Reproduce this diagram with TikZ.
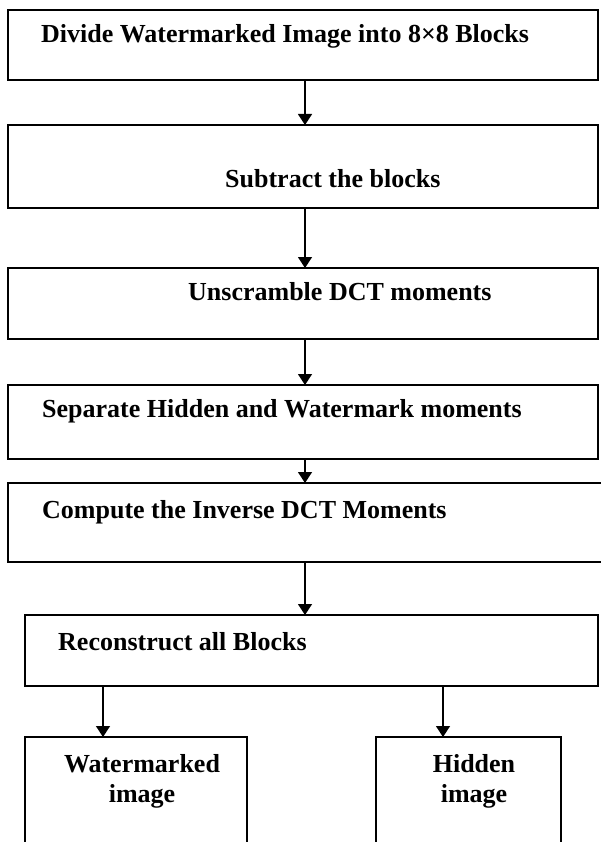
\documentclass[tikz,border=0pt]{standalone}
\usepackage{fontspec}
\setmainfont{Liberation Serif}
\usetikzlibrary{arrows.meta}
\begin{document}
\begin{tikzpicture}[x=1pt,y=-1pt,
  box/.style={draw,line width=1.4pt,rectangle,inner sep=0pt,outer sep=0pt},
  lbl/.style={inner sep=0pt,anchor=base west,font=\fontsize{26}{31}\selectfont\bfseries},
  clbl/.style={inner sep=0pt,anchor=base,font=\fontsize{26}{31}\selectfont\bfseries},
  arr/.style={line width=1.3pt,-{Triangle[width=14pt,length=11pt]}}]
\useasboundingbox[fill=white] (0,0) rectangle (600,842);
% boxes
\node[box,minimum width=590pt,minimum height=70pt] (b1) at (303,45) {};
\node[box,minimum width=590pt,minimum height=83pt] (b2) at (303,166.5) {};
\node[box,minimum width=590pt,minimum height=71pt] (b3) at (303,303.5) {};
\node[box,minimum width=590pt,minimum height=74pt] (b4) at (303,422) {};
\node[box,minimum width=594pt,minimum height=79pt] (b5) at (305,522.5) {};
\node[box,minimum width=573pt,minimum height=71pt] (b6) at (311.5,650.5) {};
\node[box,minimum width=222pt,minimum height=113pt] (b7) at (136,793.5) {};
\node[box,minimum width=185pt,minimum height=113pt] (b8) at (468.5,793.5) {};
% texts
\node[lbl] (t1) at (41,43) {Divide Watermarked Image into 8×8 Blocks};
\node[lbl] (t2) at (225,188) {Subtract the blocks};
\node[lbl] (t3) at (188,300) {Unscramble DCT moments};
\node[lbl] (t4) at (42,417) {Separate Hidden and Watermark moments};
\node[lbl] (t5) at (42,518) {Compute the Inverse DCT Moments};
\node[lbl] (t6) at (58,650) {Reconstruct all Blocks};
\node[clbl] (t7a) at (142,772) {Watermarked};
\node[clbl] (t7b) at (142,802) {image};
\node[clbl] (t8a) at (474,772) {Hidden};
\node[clbl] (t8b) at (474,802) {image};
% arrows
\draw[arr] ([xshift=2pt]b1.south) -- ([xshift=2pt]b1.south |- b2.north);
\draw[arr] ([xshift=2pt]b2.south) -- ([xshift=2pt]b2.south |- b3.north);
\draw[arr] ([xshift=2pt]b3.south) -- ([xshift=2pt]b3.south |- b4.north);
\draw[arr] ([xshift=2pt]b4.south) -- ([xshift=2pt]b4.south |- b5.north);
\draw[arr] (b5.south) -- (b5.south |- b6.north);
\draw[arr] ([xshift=-33pt]b7.north |- b6.south) -- ([xshift=-33pt]b7.north);
\draw[arr] ([xshift=-25.5pt]b8.north |- b6.south) -- ([xshift=-25.5pt]b8.north);
\end{tikzpicture}
\end{document}
